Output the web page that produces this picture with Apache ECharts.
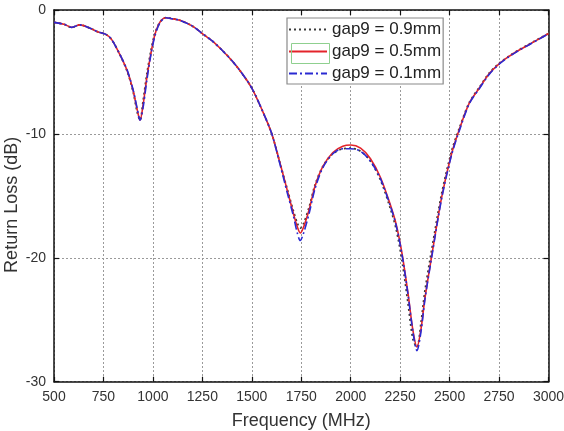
<!DOCTYPE html>
<html>
<head>
<meta charset="utf-8">
<script src="https://cdn.jsdelivr.net/npm/echarts@6/dist/echarts.min.js"></script>
<style>html,body{margin:0;padding:0;background:#fff}#c{width:564px;height:431px}</style>
</head>
<body>
<div id="c"></div>
<script>
var seriesNames = ['gap9 = 0.9mm', 'gap9 = 0.5mm', 'gap9 = 0.1mm'];
var xTicks = [500, 750, 1000, 1250, 1500, 1750, 2000, 2250, 2500, 2750, 3000];
var yTicks = [-30, -20, -10, 0];
var freqMHz = [500,550,590,630,680,720,760,790,830,870,900,920,935,950,970,990,1010,1035,1065,1090,1140,1200,1250,1300,1350,1400,1450,1500,1550,1600,1640,1680,1710,1730,1745,1760,1790,1820,1860,1910,1960,2000,2050,2100,2150,2200,2230,2260,2290,2315,2335,2355,2375,2410,2460,2510,2550,2600,2650,2700,2750,2800,2850,2900,2950,3000];
var gap09 = [-1.0,-1.15,-1.4,-1.2,-1.45,-1.75,-1.95,-2.35,-3.5,-4.95,-6.6,-8.2,-8.9,-7.4,-5.1,-3.3,-1.9,-1.0,-0.62,-0.68,-0.85,-1.3,-1.9,-2.5,-3.25,-4.1,-5.1,-6.3,-8.0,-9.95,-12.2,-14.5,-16.2,-17.2,-17.6,-17.3,-15.9,-14.1,-12.6,-11.6,-11.2,-11.15,-11.4,-12.2,-13.7,-16.0,-17.7,-20.3,-23.7,-26.6,-27.2,-25.3,-22.7,-19.3,-14.8,-11.4,-9.5,-7.45,-6.25,-5.1,-4.3,-3.72,-3.22,-2.78,-2.33,-1.9];
var gap05 = [-1.0,-1.15,-1.4,-1.2,-1.45,-1.75,-1.95,-2.35,-3.5,-4.9,-6.5,-8.0,-8.9,-7.7,-5.4,-3.5,-2.0,-1.0,-0.62,-0.68,-0.85,-1.3,-1.9,-2.5,-3.25,-4.1,-5.1,-6.3,-8.0,-9.95,-12.2,-14.6,-16.4,-17.5,-18.0,-17.6,-16.1,-14.2,-12.6,-11.5,-11.0,-10.9,-11.15,-12.0,-13.5,-15.7,-17.3,-19.7,-22.9,-25.9,-27.2,-25.8,-23.3,-19.8,-15.1,-11.6,-9.6,-7.5,-6.3,-5.15,-4.35,-3.75,-3.25,-2.8,-2.35,-1.9];
var gap01 = [-1.0,-1.15,-1.4,-1.2,-1.45,-1.75,-1.95,-2.35,-3.5,-4.85,-6.45,-7.9,-8.9,-7.9,-5.6,-3.6,-2.1,-1.05,-0.62,-0.68,-0.85,-1.3,-1.9,-2.5,-3.25,-4.1,-5.1,-6.3,-8.0,-9.95,-12.3,-14.8,-16.6,-18.0,-18.6,-18.1,-16.4,-14.4,-12.7,-11.6,-11.2,-11.2,-11.4,-12.2,-13.6,-15.8,-17.4,-19.8,-23.0,-26.0,-27.5,-26.0,-23.4,-19.9,-15.2,-11.7,-9.7,-7.55,-6.35,-5.2,-4.38,-3.78,-3.27,-2.82,-2.37,-1.92];

function pairs(ys) { return freqMHz.map(function (f, i) { return [f, ys[i]]; }); }

var chart = echarts.init(document.getElementById('c'), null, {renderer: 'canvas'});
var FONT = 'Liberation Sans, Arial, sans-serif';
var labelStyle = {color: '#333', fontSize: 14, fontFamily: FONT, formatter: function (v) { return String(v); }};
var gridLine = {show: true, lineStyle: {color: '#9a9a9a', type: [2, 2], width: 1}};
var boxLine = {show: true, onZero: false, lineStyle: {color: '#111', width: 1.5}};
var tick = {show: true, inside: true, length: 5, lineStyle: {color: '#111', width: 1.2}};
chart.setOption({
  animation: false,
  backgroundColor: '#fff',
  grid: {left: 54, right: 15.5, top: 10, bottom: 49.3, containLabel: false, outerBoundsMode: 'none'},
  xAxis: [{
    type: 'value', min: xTicks[0], max: xTicks[xTicks.length - 1], interval: 250,
    name: 'Frequency (MHz)', nameLocation: 'middle', nameGap: 30, nameMoveOverlap: false,
    nameTextStyle: {color: '#333', fontSize: 18, fontFamily: FONT},
    axisLine: boxLine, axisTick: tick,
    axisLabel: Object.assign({margin: 8}, labelStyle),
    splitLine: gridLine
  }, {
    type: 'value', position: 'top', min: xTicks[0], max: xTicks[xTicks.length - 1], interval: 250,
    axisLine: boxLine, axisTick: tick,
    axisLabel: {show: false}, splitLine: {show: false}
  }],
  yAxis: [{
    type: 'value', min: yTicks[0], max: yTicks[yTicks.length - 1], interval: 10,
    name: 'Return Loss (dB)', nameLocation: 'middle', nameGap: 33, nameMoveOverlap: false,
    nameTextStyle: {color: '#333', fontSize: 18, fontFamily: FONT, padding: [0, 18, 0, 0]},
    axisLine: boxLine, axisTick: tick,
    axisLabel: Object.assign({margin: 8}, labelStyle),
    splitLine: gridLine
  }, {
    type: 'value', position: 'right', min: yTicks[0], max: yTicks[yTicks.length - 1], interval: 10,
    axisLine: boxLine, axisTick: tick,
    axisLabel: {show: false}, splitLine: {show: false}
  }],
  legend: {
    orient: 'vertical', left: 287, top: 18,
    padding: [3, 2, 2, 1], itemGap: 5, itemWidth: 38, itemHeight: 14,
    backgroundColor: '#fff', borderColor: '#8a8a8a', borderWidth: 1.2,
    itemStyle: {opacity: 0},
    textStyle: {color: '#222', fontSize: 17, fontFamily: FONT},
    data: seriesNames
  },
  graphic: [{
    type: 'rect', left: 289, top: 41, z: 100,
    shape: {width: 38, height: 20},
    style: {fill: 'none', stroke: '#8fd08f', lineWidth: 1}
  }],
  series: [{
    name: seriesNames[0], type: 'line', symbol: 'none', smooth: 0.3,
    data: pairs(gap09), lineStyle: {color: '#3a3a3a', width: 1.8, type: [2, 3]}, itemStyle: {color: '#3a3a3a'}, z: 2
  }, {
    name: seriesNames[1], type: 'line', symbol: 'none', smooth: 0.3,
    data: pairs(gap05), lineStyle: {color: '#e3242b', width: 1.6, type: 'solid'}, itemStyle: {color: '#e3242b'}, z: 3
  }, {
    name: seriesNames[2], type: 'line', symbol: 'none', smooth: 0.3,
    data: pairs(gap01), lineStyle: {color: '#2a2ad2', width: 1.6, type: [8, 3, 2, 3]}, itemStyle: {color: '#2a2ad2'}, z: 4
  }]
});
</script>
</body>
</html>
